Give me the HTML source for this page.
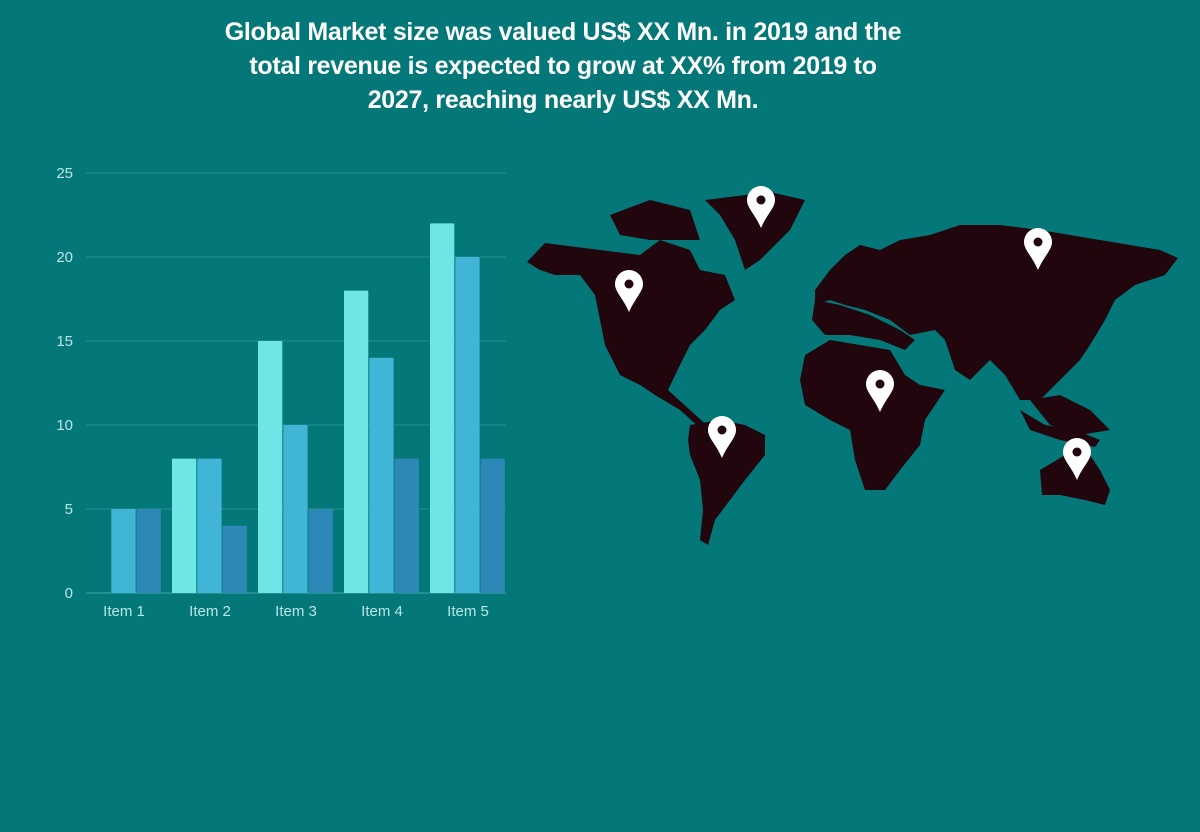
<!DOCTYPE html>
<html><head><meta charset="utf-8"><style>
body{margin:0;width:1200px;height:832px;background:#047878;overflow:hidden;font-family:"Liberation Sans",sans-serif}
#title{position:absolute;left:163px;top:15px;width:800px;text-align:center;color:#fff;font-weight:bold;font-size:25px;line-height:34px;letter-spacing:-0.3px}
svg{position:absolute;left:0;top:0}
</style></head><body>
<div id="title">Global Market size was valued US$ XX Mn. in 2019 and the<br>total revenue is expected to grow at XX% from 2019 to<br>2027, reaching nearly US$ XX Mn.</div>
<svg width="1200" height="832">
<g id="chart"></g>
<g fill="#22060e">
<polygon points="527,262 545,243 600,250 640,255 660,240 690,250 700,270 725,275 735,300 720,310 705,330 690,345 680,365 668,390 690,410 710,428 700,428 680,410 655,395 640,385 620,375 605,345 600,320 595,295 580,275 555,275 540,270"/>
<polygon points="610,215 650,200 690,210 700,240 650,240 620,235"/>
<polygon points="705,200 770,192 805,200 790,230 760,260 745,270 735,240 720,215"/>
<polygon points="690,425 720,420 745,425 765,435 765,455 745,480 730,500 715,520 708,545 700,540 703,510 700,480 690,455 688,440"/>
<polygon points="815,290 830,270 845,255 860,245 880,250 900,240 930,235 960,225 1000,225 1040,230 1070,235 1100,240 1130,245 1160,250 1178,258 1165,275 1135,285 1115,300 1105,320 1090,345 1080,360 1065,375 1050,390 1040,400 1020,400 1005,375 990,360 970,380 955,370 945,340 935,330 910,335 890,320 865,310 845,305 830,300 815,305"/>
<polygon points="815,300 840,305 870,315 900,330 915,340 905,350 880,340 850,335 825,335 812,320"/>
<polygon points="805,355 830,340 860,345 890,350 905,375 920,385 945,390 925,420 920,445 900,470 885,490 865,490 855,460 850,430 830,420 805,405 800,380"/>
<polygon points="1030,400 1060,395 1090,410 1110,430 1080,435 1050,425"/>
<polygon points="1020,410 1045,425 1075,430 1100,440 1095,447 1060,440 1030,430"/>
<polygon points="1040,470 1065,455 1090,455 1100,470 1110,490 1105,505 1085,500 1060,495 1042,495"/>
</g>
<g id="pins"></g>
</svg>
<script>
const categories=["Item 1","Item 2","Item 3","Item 4","Item 5"];
const series1=[0,8,15,18,22];
const series2=[5,8,10,14,20];
const series3=[5,4,5,8,8];
const yTicks=[0,5,10,15,20,25];
const NS="http://www.w3.org/2000/svg";
const x0=86,x1=506,y0=593,yTop=173,yMax=25,groupW=86,barW=25.3;
const y=v=>y0-(v/yMax)*(y0-yTop);
const g=document.getElementById('chart');
function mk(t,a){const e=document.createElementNS(NS,t);for(const k in a)e.setAttribute(k,a[k]);return e;}
yTicks.forEach(t=>{
 const l=mk('line',{x1:x0,x2:x1,y1:y(t),y2:y(t),stroke:t===0?'#3aa8a8':'#1f8f8f','stroke-width':1});
 
 
 g.appendChild(l);
 const tx=mk('text',{x:73,y:y(t)+5,'text-anchor':'end',fill:'#b8e6e6','font-size':15});
 
 
 tx.textContent=t;g.appendChild(tx);
});
const allSeries=[series1,series2,series3],colors=['#6ee6e6','#40b5d5','#2d88b8'];
categories.forEach((c,i)=>{
 allSeries.forEach((s,j)=>{
  if(s[i]<=0)return;
  const r=mk('rect',{x:x0+i*groupW+j*barW,y:y(s[i]),width:barW-1,height:y0-y(s[i]),fill:colors[j],rx:1});
  
  
  g.appendChild(r);
 });
 const tx=mk('text',{x:x0+i*groupW+38,y:616,'text-anchor':'middle',fill:'#b8e6e6','font-size':15});
 
 
 tx.textContent=c;g.appendChild(tx);
});
const pins=[[761,228],[629,312],[1038,270],[880,412],[722,458],[1077,480]];
const pg=document.getElementById('pins');
pins.forEach(p=>{
 const [px,py]=p;
 const path=mk('path',{d:`M${px},${py} C${px-6},${py-14} ${px-14},${py-20} ${px-14},${py-28} A14,14 0 1 1 ${px+14},${py-28} C${px+14},${py-20} ${px+6},${py-14} ${px},${py} Z`,fill:'#fff'});
 
 
 pg.appendChild(path);
 const d=mk('circle',{cx:px,cy:py-28,r:4.5,fill:'#22060e'});
 
 
 pg.appendChild(d);
});
</script>
</body></html>
